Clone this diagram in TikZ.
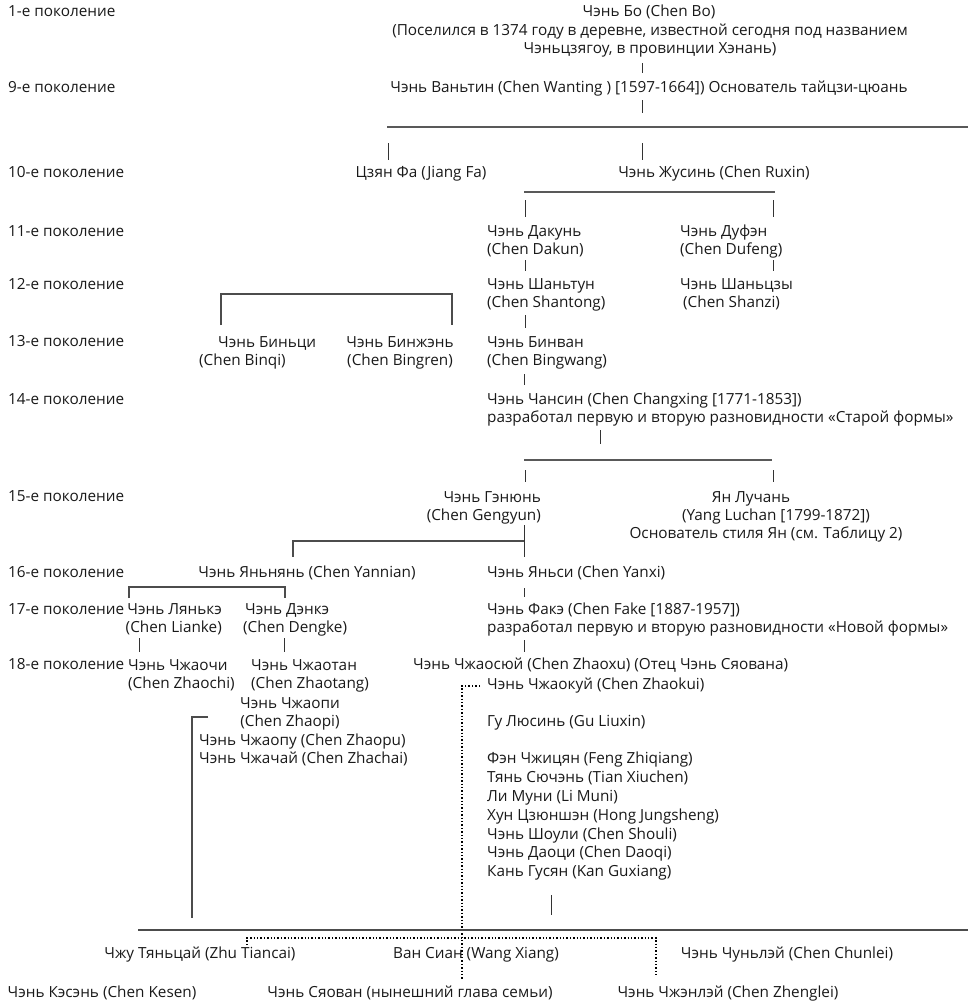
\documentclass[tikz,border=0pt]{standalone}
\usepackage{fontspec}
\setmainfont{Open Sans}
\begin{document}
\begin{tikzpicture}[x=1pt,y=-1pt,
  txt/.style={inner sep=0pt, font=\fontsize{15.3}{18}\selectfont, text=black!90},
  L/.style={txt, anchor=west, align=left},
  C/.style={txt, anchor=center, align=center},
  R/.style={txt, anchor=east, align=right},
  tick/.style={draw=black!80, line width=0.9pt},
  bar/.style={draw=black!65, line width=1.8pt},
  brk/.style={draw=black!70, line width=1.4pt},
  dots/.style={draw=black, dotted, line width=1.4pt}]
\useasboundingbox (0,0) rectangle (968,1004);
% generation labels
\node[L] (g1)  at (8,13)  {\strut 1-е поколение};
\node[L] (g9)  at (8,89)  {\strut 9-е поколение};
\node[L] (g10) at (8,174) {\strut 10-е поколение};
\node[L] (g11) at (8,233) {\strut 11-е поколение};
\node[L] (g12) at (8,286) {\strut 12-е поколение};
\node[L] (g13) at (8,343) {\strut 13-е поколение};
\node[L] (g14) at (8,401) {\strut 14-е поколение};
\node[L] (g15) at (8,498) {\strut 15-е поколение};
\node[L] (g16) at (8,574) {\strut 16-е поколение};
\node[L] (g17) at (8,611) {\strut 17-е поколение};
\node[L] (g18) at (8,666) {\strut 18-е поколение};
% persons
\node[C] (bo) at (649,13) {\strut Чэнь Бо (Chen Bo)};
\node[C] (bonote) at (650,41) {\strut (Поселился в 1374 году в деревне, известной сегодня под названием\\\strut Чэньцзягоу, в провинции Хэнань)};
\node[C] (wanting) at (649,89) {\strut Чэнь Ваньтин (Chen Wanting ) [1597-1664]) Основатель тайцзи-цюань};
\node[C] (jiangfa) at (421,174) {\strut Цзян Фа (Jiang Fa)};
\node[C] (ruxin) at (714,174) {\strut Чэнь Жусинь (Chen Ruxin)};
\node[L] (dakun) at (487,241.5) {\strut Чэнь Дакунь\\\strut (Chen Dakun)};
\node[L] (dufeng) at (680,241.5) {\strut Чэнь Дуфэн\\\strut (Chen Dufeng)};
\node[L] (shantong) at (487,295) {\strut Чэнь Шаньтун\\\strut (Chen Shantong)};
\node[L] (shanzi) at (680,295) {\strut Чэнь Шаньцзы\\\strut\hspace*{3pt}(Chen Shanzi)};
\node[L] (binqi) at (199,352.5) {\strut\hspace*{19pt}Чэнь Биньци\\\strut (Chen Binqi)};
\node[C] (bingren) at (400,352.5) {\strut Чэнь Бинжэнь\\\strut (Chen Bingren)};
\node[L] (bingwang) at (487,352.5) {\strut Чэнь Бинван\\\strut (Chen Bingwang)};
\node[L] (changxing) at (487,410) {\strut Чэнь Чансин (Chen Changxing [1771-1853])\\\strut разработал первую и вторую разновидности «Старой формы»};
\node[R] (gengyun) at (541,507.5) {\strut Чэнь Гэнюнь\\\strut (Chen Gengyun)};
\node[C] (luchan) at (766,517) {\strut Ян Лучань\hspace*{30pt}\\\strut\hspace*{20pt}(Yang Luchan [1799-1872])\\\strut Основатель стиля Ян (см. Таблицу 2)};
\node[C] (yannian) at (307,574) {\strut Чэнь Яньнянь (Chen Yannian)};
\node[L] (yanxi) at (487,574) {\strut Чэнь Яньси (Chen Yanxi)};
\node[R] (lianke) at (222,620) {\strut Чэнь Лянькэ\\\strut (Chen Lianke)};
\node[L] (dengke) at (243,620) {\strut\hspace*{2pt}Чэнь Дэнкэ\\\strut (Chen Dengke)};
\node[L] (fake) at (487,620) {\strut Чэнь Факэ (Chen Fake [1887-1957])\\\strut разработал первую и вторую разновидности «Новой формы»};
\node[L] (zhaochi) at (128,676) {\strut Чэнь Чжаочи\\\strut (Chen Zhaochi)};
\node[L] (zhaotang) at (251,676) {\strut Чэнь Чжаотан\\\strut (Chen Zhaotang)};
\node[L] (zhaoxu) at (413,666) {\strut Чэнь Чжаосюй (Chen Zhaoxu) (Отец Чэнь Сяована)};
\node[C] (zhaopi) at (290,714) {\strut Чэнь Чжаопи\\\strut (Chen Zhaopi)};
\node[L] (zhaopu) at (199,751) {\strut Чэнь Чжаопу (Chen Zhaopu)\\\strut Чэнь Чжачай (Chen Zhachai)};
\node[L] (zhaokui) at (487,686) {\strut Чэнь Чжаокуй (Chen Zhaokui)};
\node[L] (guliuxin) at (487,723) {\strut Гу Люсинь (Gu Liuxin)};
\node[L, font=\fontsize{15.3}{18.8}\selectfont] (students) at (487,816.5) {\strut Фэн Чжицян (Feng Zhiqiang)\\\strut Тянь Сючэнь (Tian Xiuchen)\\\strut Ли Муни (Li Muni)\\\strut Хун Цзюншэн (Hong Jungsheng)\\\strut Чэнь Шоули (Chen Shouli)\\\strut Чэнь Даоци (Chen Daoqi)\\\strut Кань Гусян (Kan Guxiang)};
\node[C] (zhu) at (200,955) {\strut Чжу Тяньцай (Zhu Tiancai)};
\node[C] (wang) at (476,955) {\strut Ван Сиан (Wang Xiang)};
\node[C] (chunlei) at (787,955) {\strut Чэнь Чуньлэй (Chen Chunlei)};
\node[C] (kesen) at (102,994) {\strut Чэнь Кэсэнь (Chen Kesen)};
\node[C] (xiaowang) at (410,994) {\strut Чэнь Сяован (нынешний глава семьи)};
\node[C] (zhenglei) at (728,994) {\strut Чэнь Чжэнлэй (Chen Zhenglei)};
% junction coordinates
\coordinate (a1) at (642,63);  \coordinate (a2) at (642,73);
\coordinate (b1) at (642,100); \coordinate (b2) at (642,113);
\coordinate (bar1l) at (387,127); \coordinate (bar1r) at (968,127);
\coordinate (c1) at (388,143); \coordinate (c2) at (388,160);
\coordinate (d1) at (642,143); \coordinate (d2) at (642,160);
\coordinate (bar2l) at (524,192); \coordinate (bar2r) at (775,192);
\coordinate (e1) at (525,200); \coordinate (e2) at (525,217);
\coordinate (f1) at (773,200); \coordinate (f2) at (773,217);
\coordinate (h1) at (525,260); \coordinate (h2) at (525,271);
\coordinate (i1) at (773,260); \coordinate (i2) at (773,271);
\coordinate (j1) at (221,325); \coordinate (j2) at (221,294); \coordinate (j3) at (452,294); \coordinate (j4) at (452,325);
\coordinate (k1) at (525,315); \coordinate (k2) at (525,328);
\coordinate (l1) at (524,374); \coordinate (l2) at (524,385);
\coordinate (m1) at (600,430); \coordinate (m2) at (600,444);
\coordinate (bar3l) at (524,460); \coordinate (bar3r) at (772,460);
\coordinate (n1) at (525,470); \coordinate (n2) at (525,482);
\coordinate (o1) at (773,470); \coordinate (o2) at (773,482);
\coordinate (p1) at (524,525); \coordinate (p2) at (524,557);
\coordinate (q1) at (524,541); \coordinate (q2) at (293,541); \coordinate (q3) at (293,557);
\coordinate (r1) at (129,598); \coordinate (r2) at (129,587); \coordinate (r3) at (285,587); \coordinate (r4) at (285,598);
\coordinate (s1) at (524,588); \coordinate (s2) at (524,597);
\coordinate (t1) at (139,638); \coordinate (t2) at (139,652);
\coordinate (u1) at (284,638); \coordinate (u2) at (284,652);
\coordinate (v1) at (524,640); \coordinate (v2) at (524,652);
\coordinate (w1) at (208,717); \coordinate (w2) at (192,717); \coordinate (w3) at (192,918);
\coordinate (x1) at (480,686); \coordinate (x2) at (462,686); \coordinate (x3) at (462,980);
\coordinate (y1) at (551,895); \coordinate (y2) at (551,915);
\coordinate (bar4l) at (138,930); \coordinate (bar4r) at (968,930);
\coordinate (z1) at (247,945); \coordinate (z2) at (247,938); \coordinate (z3) at (656,938); \coordinate (z4) at (656,975);
% connectors
\draw[tick] (a1) -- (a2);
\draw[tick] (b1) -- (b2);
\draw[bar] (bar1l) -- (bar1r);
\draw[tick] (c1) -- (c2);
\draw[tick] (d1) -- (d2);
\draw[bar] (bar2l) -- (bar2r);
\draw[tick] (e1) -- (e2);
\draw[tick] (f1) -- (f2);
\draw[tick] (h1) -- (h2);
\draw[tick] (i1) -- (i2);
\draw[brk] (j1) -- (j2) -- (j3) -- (j4);
\draw[tick] (k1) -- (k2);
\draw[tick] (l1) -- (l2);
\draw[tick] (m1) -- (m2);
\draw[bar] (bar3l) -- (bar3r);
\draw[tick] (n1) -- (n2);
\draw[tick] (o1) -- (o2);
\draw[tick] (p1) -- (p2);
\draw[brk] (q1) -- (q2) -- (q3);
\draw[brk] (r1) -- (r2) -- (r3) -- (r4);
\draw[tick] (s1) -- (s2);
\draw[tick] (t1) -- (t2);
\draw[tick] (u1) -- (u2);
\draw[tick] (v1) -- (v2);
\draw[brk] (w1) -- (w2) -- (w3);
\draw[dots] (x1) -- (x2) -- (x3);
\draw[tick] (y1) -- (y2);
\draw[brk] (bar4l) -- (bar4r);
\draw[dots] (z1) -- (z2) -- (z3) -- (z4);
\end{tikzpicture}
\end{document}
